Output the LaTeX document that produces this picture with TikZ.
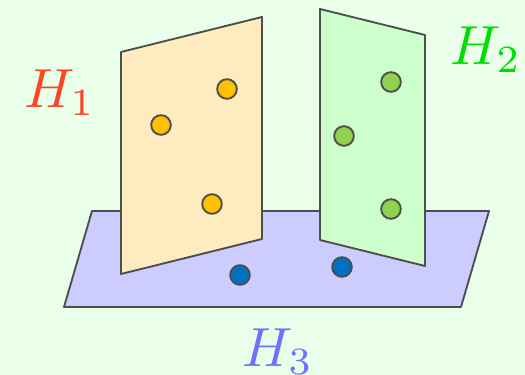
\documentclass[tikz,border=0pt]{standalone}
\definecolor{bgc}{HTML}{E9FFE9}
\definecolor{edgec}{HTML}{4D4D4D}
\definecolor{pa}{HTML}{FFEBC0}
\definecolor{pb}{HTML}{CCFFCC}
\definecolor{pc}{HTML}{CCCCFF}
\definecolor{da}{HTML}{FFC000}
\definecolor{db}{HTML}{92D050}
\definecolor{dc}{HTML}{0070C0}
\definecolor{ta}{HTML}{FF4422}
\definecolor{tb}{HTML}{00DD00}
\definecolor{tc}{HTML}{7070FF}
\newcommand{\px}{0.0264583cm}
\newcommand{\biglab}[1]{\scalebox{4.15}{$#1$}}
\tikzset{x=\px,y=-\px,
plane/.style={draw=edgec,line width=1.4pt,line join=round},
dotn/.style={circle,draw=edgec,line width=1.4pt,minimum size=14.8pt,inner sep=0pt},
lab/.style={inner sep=0pt}}
\begin{document}
\begin{tikzpicture}
\path[use as bounding box,fill=bgc] (0,0) rectangle (525,375);
\draw[plane,fill=pc] (92,211) -- (489,211) -- (461,307) -- (64,307) -- cycle;
\draw[plane,fill=pa] (121,52) -- (262,17) -- (262,239) -- (121,274) -- cycle;
\draw[plane,fill=pb] (320,9) -- (425,35) -- (425,266) -- (320,240) -- cycle;
\node[dotn,fill=da] (a1) at (227,89) {};
\node[dotn,fill=da] (a2) at (161,125) {};
\node[dotn,fill=da] (a3) at (212,204) {};
\node[dotn,fill=db] (b1) at (391,82) {};
\node[dotn,fill=db] (b2) at (344,136) {};
\node[dotn,fill=db] (b3) at (391,209) {};
\node[dotn,fill=dc] (c1) at (240,275) {};
\node[dotn,fill=dc] (c2) at (342,267) {};
\node[lab,text=ta] (h1) at (60,93) {\biglab{H_1}};
\node[lab,text=tb] (h2) at (486,50) {\biglab{H_2}};
\node[lab,text=tc] (h3) at (278,352) {\biglab{H_3}};
\end{tikzpicture}
\end{document}
